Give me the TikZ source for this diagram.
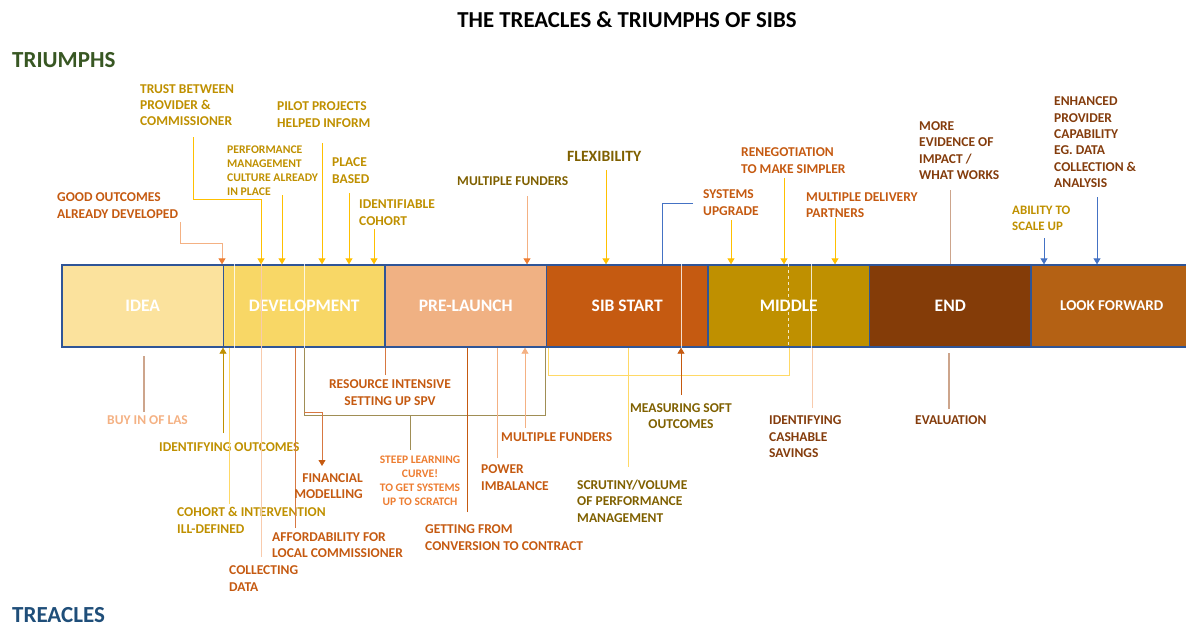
\documentclass[tikz,border=0pt]{standalone}
\usepackage{fontspec}
\setmainfont{Carlito}
\usepackage{xcolor}
\usetikzlibrary{arrows.meta, positioning}
\definecolor{triumphgreen}{RGB}{56, 87, 35}
\definecolor{treacleblue}{RGB}{31, 78, 121}
\definecolor{goldtext}{RGB}{191, 144, 0}
\definecolor{orangetext}{RGB}{197, 90, 17}
\definecolor{olivetext}{RGB}{127, 96, 0}
\definecolor{browntext}{RGB}{132, 60, 12}
\definecolor{salmontext}{RGB}{244, 177, 131}
\definecolor{steeporange}{RGB}{237, 125, 49}
\definecolor{barblue}{RGB}{47, 85, 151}
\definecolor{ideafill}{RGB}{251, 226, 157}
\definecolor{devfill}{RGB}{248, 215, 102}
\definecolor{prefill}{RGB}{240, 177, 131}
\definecolor{sibfill}{RGB}{197, 90, 17}
\definecolor{midfill}{RGB}{191, 144, 0}
\definecolor{endfill}{RGB}{132, 60, 8}
\definecolor{lookfill}{RGB}{180, 97, 20}
\definecolor{lineyellow}{RGB}{255, 192, 0}
\definecolor{palelineyellow}{RGB}{255, 217, 102}
\definecolor{linesalmon}{RGB}{244, 177, 131}
\definecolor{linepink}{RGB}{248, 203, 173}
\definecolor{linetan}{RGB}{205, 165, 140}
\definecolor{lineblue}{RGB}{68, 114, 196}
\definecolor{lineolive}{RGB}{160, 142, 85}
\definecolor{lineorange}{RGB}{215, 120, 65}

\begin{document}
\begin{tikzpicture}[x=1pt, y=-1pt,
  phase/.style={draw=barblue, line width=1.3pt, minimum width=161.5pt, minimum height=82pt, inner sep=0, text=white, font=\bfseries\fontsize{17.5}{20}\selectfont},
  note/.style={anchor=north west, inner sep=0, align=left, font=\bfseries\fontsize{13.5}{16.4}\selectfont},
  note small/.style={note, font=\bfseries\fontsize{11.7}{14}\selectfont},
  heading/.style={anchor=west, inner sep=0, font=\bfseries\fontsize{23}{27}\selectfont},
  link/.style={line width=0.8pt},
  tip/.style={-{Triangle[length=6pt, width=7pt, #1]}},
  tip/.default={},
]
\useasboundingbox (0,0) rectangle (1186,626);

% Title and side headings
\node[inner sep=0, font=\bfseries\fontsize{22.8}{27}\selectfont] (title) at (627,20) {THE TREACLES \& TRIUMPHS OF SIBS};
\node[heading, text=triumphgreen] (triumphs) at (12,60) {TRIUMPHS};
\node[heading, text=treacleblue] (treacles) at (12,615) {TREACLES};

% ==================== phase bar ====================
\node[phase, fill=ideafill] (idea) at (142.75,306) {IDEA};
\node[phase, fill=devfill] (devel) at (304.25,306) {DEVELOPMENT};
\node[phase, fill=prefill] (prelaunch) at (465.75,306) {PRE-LAUNCH};
\node[phase, fill=sibfill] (sibstart) at (627.25,306) {SIB START};
\node[phase, fill=midfill] (middle) at (788.75,306) {MIDDLE};
\node[phase, fill=endfill] (endseg) at (950.25,306) {END};
\node[phase, fill=lookfill, font=\bfseries\fontsize{15}{18}\selectfont] (lookfwd) at (1111.75,306) {LOOK FORWARD};

% lines running through the bar
\foreach \xx/\seg in {234/devel, 304/devel, 681/sibstart, 811/middle}
  \draw[white, line width=0.6pt, opacity=0.8] (\seg.north -| \xx,0) -- (\seg.south -| \xx,0);
\draw[linepink, line width=0.6pt] (devel.north -| 261,0) -- (devel.south -| 261,0);
\draw[white, line width=0.6pt, dashed, opacity=0.8] (middle.north -| 788,0) -- (middle.south -| 788,0);

% ==================== TRIUMPHS ====================
\node[note, text=goldtext] (trust) at (140,84) {TRUST BETWEEN\\PROVIDER \&\\COMMISSIONER};
\coordinate (trust-tail) at (193,137);
\draw[link, lineyellow, tip] (trust-tail) |- (261,199) -- (devel.north -| 261,0);

\node[note small, text=goldtext] (perfcult) at (227,145.2) {PERFORMANCE\\MANAGEMENT\\CULTURE ALREADY\\IN PLACE};
\coordinate (perfcult-tail) at (282,195);
\draw[link, lineyellow, tip] (perfcult-tail) -- (devel.north -| perfcult-tail);

\node[note, text=goldtext] (pilot) at (277,101.7) {PILOT PROJECTS\\HELPED INFORM};
\coordinate (pilot-tail) at (322,143);
\draw[link, lineyellow, tip] (pilot-tail) -- (devel.north -| pilot-tail);

\node[note, text=goldtext] (place) at (332,157.7) {PLACE\\BASED};
\coordinate (place-tail) at (349,193);
\draw[link, lineyellow, tip] (place-tail) -- (devel.north -| place-tail);

\node[note, text=goldtext] (cohort) at (359,199.7) {IDENTIFIABLE\\COHORT};
\coordinate (cohort-tail) at (374,229);
\draw[link, lineyellow, tip] (cohort-tail) -- (devel.north -| cohort-tail);

\node[note, text=orangetext] (goodout) at (57,192.7) {GOOD OUTCOMES\\ALREADY DEVELOPED};
\coordinate (goodout-tail) at (180,222);
\draw[link, linesalmon, tip={color=steeporange}] (goodout-tail) |- (222,243) -- (devel.north -| 222,0);

\node[note, text=olivetext] (fundtop) at (457,176.7) {MULTIPLE FUNDERS};
\coordinate (fundtop-tail) at (527,196);
\draw[link, linesalmon, tip={color=steeporange}] (fundtop-tail) -- (prelaunch.north -| fundtop-tail);

\node[note, text=olivetext, font=\bfseries\fontsize{15.7}{19}\selectfont] (flex) at (567,151) {FLEXIBILITY};
\coordinate (flex-tail) at (606,170);
\draw[link, lineyellow, tip] (flex-tail) -- (sibstart.north -| flex-tail);

\node[note, text=orangetext] (systems) at (703,189.7) {SYSTEMS\\UPGRADE};
\coordinate (systems-tail) at (693,203);
\draw[link, lineblue] (systems-tail) -- (662,203) -- (sibstart.north -| 662,0);
\coordinate (upgrade-tail) at (731,220);
\draw[link, lineyellow, tip] (upgrade-tail) -- (middle.north -| upgrade-tail);

\node[note, text=orangetext] (reneg) at (741,147.7) {RENEGOTIATION\\TO MAKE SIMPLER};
\coordinate (reneg-tail) at (784,178);
\draw[link, lineyellow, tip] (reneg-tail) -- (middle.north -| reneg-tail);

\node[note, text=orangetext] (delivery) at (806,192.3) {MULTIPLE DELIVERY\\PARTNERS};
\coordinate (delivery-tail) at (835,218);
\draw[link, lineyellow, tip] (delivery-tail) -- (middle.north -| delivery-tail);

\node[note, text=browntext] (evidence) at (919,121.3) {MORE\\EVIDENCE OF\\IMPACT /\\WHAT WORKS};
\coordinate (evidence-tail) at (950,190);
\draw[link, linetan] (evidence-tail) -- (endseg.north -| evidence-tail);

\node[note, text=goldtext, font=\bfseries\fontsize{12.9}{16}\selectfont] (scale) at (1012,205.8) {ABILITY TO\\SCALE UP};
\coordinate (scale-tail) at (1044,238);
\draw[link, lineblue, tip] (scale-tail) -- (lookfwd.north -| scale-tail);

\node[note, text=browntext] (enhanced) at (1054,96.7) {ENHANCED\\PROVIDER\\CAPABILITY\\EG. DATA\\COLLECTION \&\\ANALYSIS};
\coordinate (enhanced-tail) at (1097,197);
\draw[link, lineblue, tip] (enhanced-tail) -- (lookfwd.north -| enhanced-tail);

% ==================== TREACLES ====================
\node[note, text=salmontext] (buyin) at (107,415.7) {BUY IN OF LAS};
\coordinate (buyin-top) at (144,356);
\draw[link, linetan, line width=1.2pt] (buyin-top) -- (buyin-top |- 0,412);

\node[note, text=goldtext] (identout) at (159,442.3) {IDENTIFYING OUTCOMES};
\coordinate (identout-tail) at (223,433);
\draw[link, goldtext, tip] (identout-tail) -- (idea.south -| identout-tail);

\node[note, text=goldtext] (illdef) at (177,507.3) {COHORT \& INTERVENTION\\ILL-DEFINED};
\coordinate (illdef-tail) at (229,504);
\draw[link, palelineyellow] (illdef-tail) -- (devel.south -| illdef-tail);

\node[note, text=orangetext] (collect) at (229,565.7) {COLLECTING\\DATA};
\coordinate (collect-tail) at (261,557);
\draw[link, linepink] (collect-tail) -- (devel.south -| collect-tail);

\node[note, text=orangetext] (afford) at (272,532.3) {AFFORDABILITY FOR\\LOCAL COMMISSIONER};
\coordinate (afford-tail) at (295,528);
\draw[link, lineorange] (afford-tail) -- (devel.south -| afford-tail);

% steep learning bracket and financial modelling
\node[note small, text=steeporange, anchor=north, align=center, font=\bfseries\fontsize{11.5}{14}\selectfont] (steep) at (420,455.3) {STEEP LEARNING\\CURVE!\\TO GET SYSTEMS\\UP TO SCRATCH};
\draw[link, lineolive] (devel.south -| 304,0) -- (304,415) -| (prelaunch.south -| 545,0);
\coordinate (steep-tail) at (410,450);
\draw[link, lineolive] (steep-tail) -- (steep-tail |- 0,415);

\node[note, text=orangetext, anchor=north east, align=right] (finmod) at (363,473.3) {FINANCIAL\\MODELLING};
\coordinate (finmod-tail) at (322,466);
\draw[link, lineorange, tip={color=orangetext}] (304,412) -| (finmod-tail);

\node[note, text=orangetext, anchor=north, align=center] (resource) at (390,379.7) {RESOURCE INTENSIVE\\SETTING UP SPV};
\coordinate (resource-tail) at (385,375);
\draw[link, lineorange] (resource-tail) -- (prelaunch.south -| resource-tail);

\node[note, text=orangetext] (getting) at (425,524.7) {GETTING FROM\\CONVERSION TO CONTRACT};
\coordinate (getting-tail) at (467,512);
\draw[link, orangetext] (getting-tail) -- (prelaunch.south -| getting-tail);

\node[note, text=orangetext] (power) at (481,464.7) {POWER\\IMBALANCE};
\coordinate (power-tail) at (497,458);
\draw[link, linesalmon] (power-tail) -- (prelaunch.south -| power-tail);

\node[note, text=orangetext] (fundbot) at (501,432.3) {MULTIPLE FUNDERS};
\coordinate (fundbot-tail) at (525,428);
\draw[link, linesalmon, tip] (fundbot-tail) -- (prelaunch.south -| fundbot-tail);

% yellow bracket under SIB START and MIDDLE
\draw[link, palelineyellow] (sibstart.south -| 548,0) -- (548,375) -| (middle.south -| 789,0);

\node[note, text=olivetext] (scrutiny) at (577,479.7) {SCRUTINY/VOLUME\\OF PERFORMANCE\\MANAGEMENT};
\coordinate (scrutiny-tail) at (628,467);
\draw[link, palelineyellow] (scrutiny-tail) -- (sibstart.south -| scrutiny-tail);

\node[note, text=olivetext, anchor=north, align=center] (measuring) at (681,403.3) {MEASURING SOFT\\OUTCOMES};
\coordinate (measuring-tail) at (681,395);
\draw[link, orangetext, tip] (measuring-tail) -- (sibstart.south -| measuring-tail);

\node[note, text=browntext] (cashable) at (769,415.7) {IDENTIFYING\\CASHABLE\\SAVINGS};
\coordinate (cashable-tail) at (812,408);
\draw[link, linepink] (cashable-tail) -- (middle.south -| cashable-tail);

\node[note, text=browntext] (evaluation) at (915,415.7) {EVALUATION};
\coordinate (evaluation-top) at (949,353);
\draw[link, linetan, line width=1.2pt] (evaluation-top) -- (evaluation-top |- 0,409);

\end{tikzpicture}
\end{document}
